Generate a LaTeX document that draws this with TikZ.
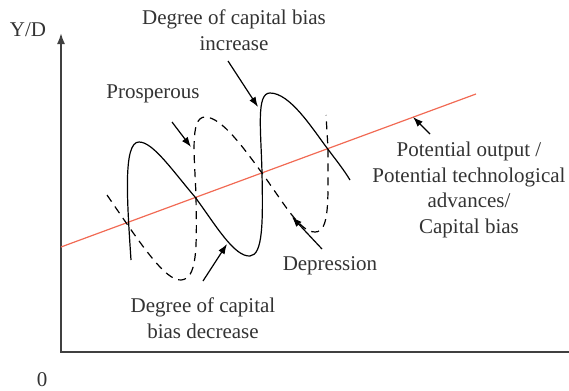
\documentclass[tikz,border=0pt]{standalone}
\usepackage{fontspec}
\setmainfont{Liberation Serif}
\usetikzlibrary{arrows.meta}
\definecolor{potred}{RGB}{241,106,84}
\tikzset{
  lbl/.style={font=\fontsize{10.5}{12.75}\selectfont, text=black!80, align=center, inner sep=0pt},
  ptr/.style={-{Latex[length=5pt,width=3.6pt]}, line width=0.6pt},
  wave/.style={line width=0.6pt},
}
\begin{document}
\begin{tikzpicture}[x=0.5pt, y=-0.5pt]
\useasboundingbox (0,0) rectangle (569,391);
% axes
\coordinate (o) at (61,352);
\coordinate (ytop) at (61,33);
\coordinate (xend) at (569,352);
\draw[line width=0.9pt, black!75, {Latex[length=5.5pt,width=4pt]}-] (ytop) -- (o) -- (xend);
\node[lbl] (ylab) at (28,30) {Y/D};
\node[lbl] (zero) at (42,380) {0};
% potential output line
\coordinate (p0) at (61,247);
\coordinate (p1) at (476,94);
\draw[potred, line width=0.6pt] (p0) -- (p1);
% cycles
\draw[wave] (131,260) .. controls (127,200) and (123,142) .. (139,142)
  .. controls (153,142) and (172,170) .. (195,197)
  .. controls (215,224) and (234,257) .. (250,256)
  .. controls (263,255) and (263,222) .. (262,173)
  .. controls (261,130) and (256,93) .. (270,93)
  .. controls (290,93) and (312,128) .. (327,148)
  .. controls (336,160) and (344,170) .. (350,180);
\draw[wave, dashed, dash pattern=on 4pt off 3pt] (107,195) .. controls (140,243) and (165,281) .. (181,280)
  .. controls (197,279) and (197,250) .. (196,197)
  .. controls (195,160) and (189,117) .. (205,117)
  .. controls (222,117) and (245,150) .. (262,173)
  .. controls (285,205) and (300,232) .. (315,232)
  .. controls (330,232) and (328,200) .. (328,148)
  -- (326,115);
% labels
\node[lbl] (inc) at (234,30) {Degree of capital bias\\increase};
\node[lbl] (pros) at (153,94) {Prosperous};
\node[lbl] (pot) at (469,190) {Potential output /\\Potential technological\\advances/\\Capital bias};
\node[lbl] (dep) at (330,266) {Depression};
\node[lbl] (dec) at (203,318) {Degree of capital\\bias decrease};
% pointers
\coordinate (incT) at (228,61);  \coordinate (incH) at (258,107);
\coordinate (prosT) at (172,122); \coordinate (prosH) at (191,147);
\coordinate (potT) at (430,134); \coordinate (potH) at (413,117);
\coordinate (depT) at (322,249); \coordinate (depH) at (292,217);
\coordinate (decT) at (203,281); \coordinate (decH) at (227,244);
\draw[ptr] (incT) -- (incH);
\draw[ptr] (prosT) -- (prosH);
\draw[ptr] (potT) -- (potH);
\draw[ptr] (depT) -- (depH);
\draw[ptr] (decT) -- (decH);
\end{tikzpicture}
\end{document}
